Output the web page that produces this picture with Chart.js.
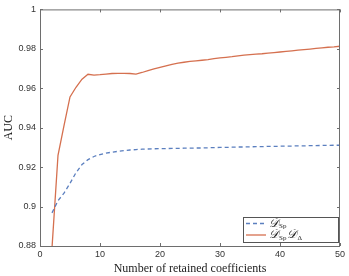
<!DOCTYPE html>
<html>
<head>
<meta charset="utf-8">
<script src="https://cdn.jsdelivr.net/npm/chart.js@4"></script>
<style>
  html, body { margin: 0; padding: 0; background: #fff; }
  #wrap { width: 349px; height: 276px; }
</style>
</head>
<body>
<div id="wrap"><canvas id="aucChart" width="349" height="276"></canvas></div>
<script>
// number of retained coefficients
const retained = [2, 3, 4, 5, 6, 7, 8, 9, 10, 11, 12, 13, 14, 15, 16, 17, 18, 19, 20, 21, 22, 23, 24, 25, 26,
  27, 28, 29, 30, 31, 32, 33, 34, 35, 36, 37, 38, 39, 40, 41, 42, 43, 44, 45, 46, 47, 48, 49, 50];

// D_Sp
const aucSp = [0.8968, 0.9030, 0.9068, 0.9118, 0.9172, 0.9213, 0.9238, 0.9254, 0.9264, 0.9271, 0.9276, 0.9280,
  0.9284, 0.9287, 0.9289, 0.9291, 0.9292, 0.9293, 0.9294, 0.9294, 0.9295, 0.9295, 0.9296, 0.9296, 0.9297,
  0.9297, 0.9298, 0.9299, 0.9300, 0.9300, 0.9301, 0.9302, 0.9302, 0.9303, 0.9304, 0.9304, 0.9305, 0.9305,
  0.9306, 0.9307, 0.9307, 0.9308, 0.9308, 0.9309, 0.9309, 0.9310, 0.9310, 0.9311, 0.9311];

// D_Sp D_Delta
const aucSpDelta = [0.879, 0.926, 0.941, 0.9556, 0.9605, 0.9646, 0.9671, 0.9667, 0.9669, 0.9672, 0.9675, 0.9676,
  0.9676, 0.9675, 0.9672, 0.9680, 0.9690, 0.9698, 0.9706, 0.9714, 0.9721, 0.9727, 0.9732, 0.9736, 0.9739,
  0.9742, 0.9745, 0.9750, 0.9754, 0.9757, 0.9760, 0.9764, 0.9768, 0.9771, 0.9773, 0.9775, 0.9778, 0.9781,
  0.9784, 0.9787, 0.9790, 0.9793, 0.9796, 0.9799, 0.9802, 0.9805, 0.9808, 0.9810, 0.9813];

const xTicks = [0, 10, 20, 30, 40, 50];
const yTicks = [0.88, 0.9, 0.92, 0.94, 0.96, 0.98, 1];

const blue = '#5b7fbf';
const red = '#d5704f';
const axisColor = '#6e6e6e';

function points(ys) {
  return retained.map((x, i) => ({ x: x, y: ys[i] }));
}

// box, inward ticks on all sides, and the legend
const matlabAxes = {
  id: 'matlabAxes',
  afterDatasetsDraw(chart) {
    const { ctx, chartArea: a, scales } = chart;
    ctx.save();
    ctx.strokeStyle = axisColor;
    ctx.lineWidth = 1;
    ctx.strokeRect(a.left + 0.5, a.top + 0.5, a.right - a.left - 1, a.bottom - a.top);
    const tl = 3;
    ctx.beginPath();
    xTicks.forEach(v => {
      const px = Math.round(scales.x.getPixelForValue(v)) + 0.5;
      ctx.moveTo(px, a.bottom); ctx.lineTo(px, a.bottom - tl);
      ctx.moveTo(px, a.top); ctx.lineTo(px, a.top + tl);
    });
    yTicks.forEach(v => {
      const py = Math.round(scales.y.getPixelForValue(v)) + 0.5;
      ctx.moveTo(a.left, py); ctx.lineTo(a.left + tl, py);
      ctx.moveTo(a.right, py); ctx.lineTo(a.right - tl, py);
    });
    ctx.stroke();

    // legend box
    const bw = 95, bh = 25;
    const bx = a.right - 2 - bw, by = a.bottom - 4 - bh;
    ctx.fillStyle = '#fff';
    ctx.fillRect(bx, by, bw, bh);
    ctx.strokeStyle = '#555';
    ctx.strokeRect(bx + 0.5, by + 0.5, bw, bh);

    const rows = [
      { color: blue, dash: [4, 3], parts: [['𝒟', 'Sp']] },
      { color: red, dash: [], parts: [['𝒟', 'Sp'], ['𝒟', 'Δ']] }
    ];
    rows.forEach((r, i) => {
      const cy = by + 6.5 + i * 11.5;
      ctx.strokeStyle = r.color;
      ctx.lineWidth = 1.3;
      ctx.setLineDash(r.dash);
      ctx.beginPath();
      ctx.moveTo(bx + 3, cy); ctx.lineTo(bx + 23, cy);
      ctx.stroke();
      ctx.setLineDash([]);
      let tx = bx + 26;
      ctx.fillStyle = '#222';
      ctx.textBaseline = 'middle';
      r.parts.forEach(p => {
        ctx.font = 'italic 12px "DejaVu Serif", "Liberation Serif", serif';
        ctx.fillText(p[0], tx, cy);
        tx += ctx.measureText(p[0]).width;
        ctx.font = '7px "Liberation Serif", serif';
        ctx.fillText(p[1], tx, cy + 3);
        tx += ctx.measureText(p[1]).width + 1;
      });
    });
    ctx.restore();
  }
};

const ctx = document.getElementById('aucChart').getContext('2d');
new Chart(ctx, {
  type: 'line',
  data: {
    datasets: [
      {
        label: 'D_Sp',
        data: points(aucSp),
        borderColor: blue,
        borderWidth: 1.3,
        borderDash: [4, 3],
        pointRadius: 0,
        tension: 0,
        clip: 0
      },
      {
        label: 'D_Sp D_Delta',
        data: points(aucSpDelta),
        borderColor: red,
        borderWidth: 1.3,
        pointRadius: 0,
        tension: 0,
        clip: 0
      }
    ]
  },
  options: {
    responsive: false,
    animation: false,
    layout: { padding: { left: 0, right: 9, top: 9, bottom: 0 } },
    plugins: { legend: { display: false }, tooltip: { enabled: false } },
    scales: {
      x: {
        type: 'linear',
        min: 0,
        max: 50,
        afterBuildTicks: s => { s.ticks = xTicks.map(v => ({ value: v })); },
        afterFit: s => { s.height = 30; },
        grid: { display: false, drawTicks: false },
        border: { display: false },
        ticks: {
          padding: 3,
          color: '#333',
          font: { family: 'Liberation Sans, Arial, sans-serif', size: 9 },
          maxRotation: 0
        },
        title: {
          display: true,
          text: 'Number of retained coefficients',
          color: '#222',
          font: { family: 'Liberation Serif, serif', size: 12 },
          padding: { top: 0, bottom: 0 }
        }
      },
      y: {
        min: 0.88,
        max: 1,
        afterBuildTicks: s => { s.ticks = yTicks.map(v => ({ value: v })); },
        afterFit: s => { s.width = 40; },
        grid: { display: false, drawTicks: false },
        border: { display: false },
        ticks: {
          padding: 4,
          color: '#333',
          font: { family: 'Liberation Sans, Arial, sans-serif', size: 9 },
          callback: v => String(Math.round(v * 100) / 100)
        },
        title: {
          display: true,
          text: 'AUC',
          color: '#222',
          font: { family: 'Liberation Serif, serif', size: 12 },
          padding: { top: 2, bottom: 0 }
        }
      }
    }
  },
  plugins: [matlabAxes]
});
</script>
</body>
</html>
